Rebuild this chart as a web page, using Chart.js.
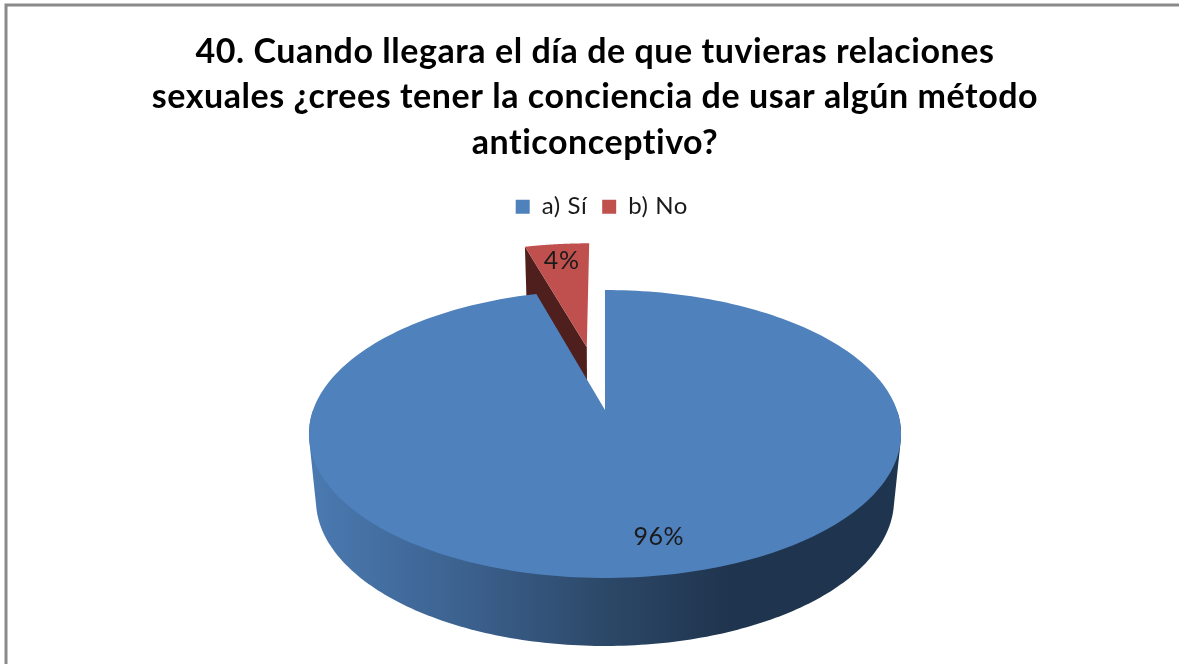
<!DOCTYPE html>
<html>
<head>
<meta charset="utf-8">
<style>
  html, body { margin: 0; padding: 0; background: #fff; }
  #wrap { width: 1179px; height: 664px; }
</style>
<script src="https://cdn.jsdelivr.net/npm/chart.js@4"></script>
</head>
<body>
<div id="wrap"><canvas id="chartPie"></canvas></div>
<script>
const titleLines = [
  "40. Cuando llegara el día de que tuvieras relaciones",
  "sexuales ¿crees tener la conciencia de usar algún método",
  "anticonceptivo?",
];
const categories = ["a) Sí", "b) No"];
const values = [95.6, 4.4];
const sliceColors = ["#4f81bd", "#c0504d"];
const wallColors = ["#1f344e", "#4f1f1d"];
const labelShift = [17, 0];
const labelRadius = [0.795, 0.82];

// the pie is tilted in perspective, so the arcs are projected by hand
const tilt = -1 / 6;
const topFace = { x: 605, y: 410, w: 291.9, h: 140 };
const lowFace = { x: 605, y: 475.7, w: 285, h: 141.9 };

function project(face, u, v) {
  const d = 1 + tilt * v;
  return { x: face.x + (face.w * u) / d, y: face.y + (face.h * v) / d };
}

function sliceGeom(arc) {
  const off = arc.options.offset / arc.outerRadius;
  const mid = (arc.startAngle + arc.endAngle) / 2;
  return { a: arc.startAngle, b: arc.endAngle, ox: off * Math.cos(mid), oy: off * Math.sin(mid) };
}

function rim(face, g, t, r = 1) {
  return project(face, g.ox + r * Math.cos(t), g.oy + r * Math.sin(t));
}

function fillPoly(ctx, pts, fill) {
  ctx.beginPath();
  pts.forEach((p, i) => (i ? ctx.lineTo(p.x, p.y) : ctx.moveTo(p.x, p.y)));
  ctx.closePath();
  ctx.fillStyle = fill;
  ctx.fill();
}

function capPoints(face, g) {
  const pts = [rim(face, g, 0, 0)];
  const steps = 240;
  for (let i = 0; i <= steps; i++) pts.push(rim(face, g, g.a + ((g.b - g.a) * i) / steps));
  return pts;
}

function hull(points) {
  const pts = points.slice().sort((p, q) => p.x - q.x || p.y - q.y);
  const cross = (o, p, q) => (p.x - o.x) * (q.y - o.y) - (p.y - o.y) * (q.x - o.x);
  const half = (list) => {
    const out = [];
    list.forEach((p) => {
      while (out.length > 1 && cross(out[out.length - 2], out[out.length - 1], p) <= 0) out.pop();
      out.push(p);
    });
    out.pop();
    return out;
  };
  return half(pts).concat(half(pts.slice().reverse()));
}

const pie3d = {
  id: "pie3d",
  beforeDraw(chart) {
    const ctx = chart.ctx;
    // slightly wider text, also stops Lato's "ti" ligature
    ctx.letterSpacing = "0.55px";
    ctx.save();
    ctx.strokeStyle = "#8a8a8a";
    ctx.lineWidth = 3;
    ctx.beginPath();
    ctx.moveTo(6, 664);
    ctx.lineTo(6, 5);
    ctx.lineTo(1179, 5);
    ctx.stroke();
    ctx.restore();
  },
  afterLayout(chart) {
    chart.legend.left += 4;
    chart.legend.right += 4;
  },
  beforeDatasetsDraw(chart) {
    const ctx = chart.ctx;
    const arcs = chart.getDatasetMeta(0).data;
    const blue = sliceGeom(arcs[0]);
    const red = sliceGeom(arcs[1]);

    ctx.save();
    // red slice first, it sits behind the blue one
    fillPoly(ctx, [rim(topFace, red, 0, 0), rim(topFace, red, red.a), rim(lowFace, red, red.a), rim(lowFace, red, 0, 0)], wallColors[1]);
    fillPoly(ctx, capPoints(topFace, red), sliceColors[1]);

    const wall = ctx.createLinearGradient(316, 0, 730, 0);
    wall.addColorStop(0, "#4a79b0");
    wall.addColorStop(0.35, "#3c628f");
    wall.addColorStop(0.7, "#2c4868");
    wall.addColorStop(1, wallColors[0]);
    // outline of the wall: hull of the front half of both rims, the cap hides the rest
    const front = [];
    const steps = 360;
    for (let i = 0; i <= steps; i++) {
      const t = blue.a + ((blue.b - blue.a) * i) / steps;
      if (Math.sin(t) >= 0) front.push(rim(topFace, blue, t), rim(lowFace, blue, t));
    }
    fillPoly(ctx, hull(front), wall);
    fillPoly(ctx, capPoints(topFace, blue), sliceColors[0]);

    // percent labels
    const total = values.reduce((s, v) => s + v, 0);
    ctx.fillStyle = "#1a1a1a";
    ctx.font = "25px Lato";
    ctx.textAlign = "center";
    ctx.textBaseline = "middle";
    [blue, red].forEach((g, i) => {
      const p = rim(topFace, g, (g.a + g.b) / 2, labelRadius[i]);
      ctx.fillText(Math.round((values[i] / total) * 100) + "%", p.x + labelShift[i], p.y);
    });
    ctx.restore();
    return false;
  },
};

document.addEventListener("DOMContentLoaded", () => {
  new Chart(document.querySelector("#chartPie"), {
    type: "pie",
    data: {
      labels: categories,
      datasets: [
        {
          data: values,
          backgroundColor: sliceColors,
          borderWidth: 0,
          offset: [0, 49],
        },
      ],
    },
    options: {
      responsive: true,
      maintainAspectRatio: false,
      animation: false,
      radius: 100,
      rotation: 0,
      layout: { padding: { left: 11, top: 29 } },
      plugins: {
        title: {
          display: true,
          text: titleLines,
          color: "#000",
          font: { family: "Lato", size: 34, weight: "bold", lineHeight: 1.34 },
          padding: { top: 0, bottom: 14 },
        },
        legend: {
          position: "top",
          labels: {
            color: "#1a1a1a",
            font: { family: "Lato", size: 24 },
            boxWidth: 14,
            boxHeight: 14,
            padding: 15,
          },
        },
        tooltip: { enabled: false },
      },
    },
    plugins: [pie3d],
  });
});
</script>
</body>
</html>
